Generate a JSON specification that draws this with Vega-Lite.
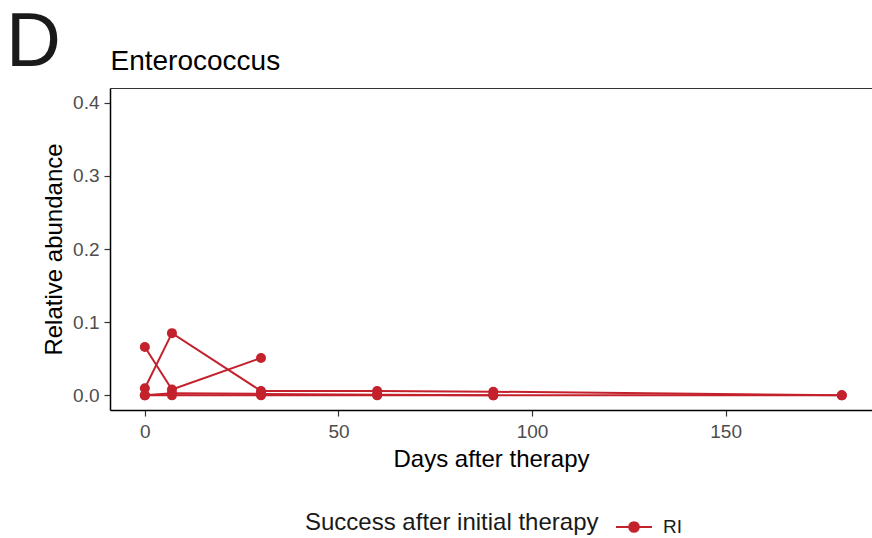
{
  "$schema": "https://vega.github.io/schema/vega-lite/v6.json",
  "autosize": "none",
  "width": 762,
  "height": 322,
  "padding": {"left": 110, "top": 88, "right": 0, "bottom": 128},
  "title": {"text": "D", "fontSize": 76, "font": "Liberation Sans", "fontWeight": "normal", "color": "#1a1a1a", "anchor": "start", "frame": "group", "dx": -104, "dy": 39},
  "config": {
    "view": {"stroke": null},
    "font": "Liberation Sans",
    "axis": {"grid": false}
  },
  "data": {"values": [
    {"subject": "A", "day": 0, "abundance": 0.066, "group": "RI"},
    {"subject": "A", "day": 7, "abundance": 0.008, "group": "RI"},
    {"subject": "A", "day": 30, "abundance": 0.051, "group": "RI"},
    {"subject": "B", "day": 0, "abundance": 0.0097, "group": "RI"},
    {"subject": "B", "day": 7, "abundance": 0.085, "group": "RI"},
    {"subject": "B", "day": 30, "abundance": 0.006, "group": "RI"},
    {"subject": "B", "day": 60, "abundance": 0.006, "group": "RI"},
    {"subject": "B", "day": 90, "abundance": 0.005, "group": "RI"},
    {"subject": "B", "day": 180, "abundance": 0.0, "group": "RI"},
    {"subject": "C", "day": 0, "abundance": 0.0, "group": "RI"},
    {"subject": "C", "day": 7, "abundance": 0.0, "group": "RI"},
    {"subject": "C", "day": 30, "abundance": 0.0, "group": "RI"},
    {"subject": "C", "day": 60, "abundance": 0.0, "group": "RI"},
    {"subject": "C", "day": 90, "abundance": 0.0, "group": "RI"},
    {"subject": "C", "day": 180, "abundance": 0.0, "group": "RI"},
    {"subject": "D", "day": 0, "abundance": 0.0, "group": "RI"},
    {"subject": "D", "day": 7, "abundance": 0.003, "group": "RI"},
    {"subject": "D", "day": 30, "abundance": 0.002, "group": "RI"},
    {"subject": "D", "day": 60, "abundance": 0.001, "group": "RI"},
    {"subject": "D", "day": 90, "abundance": 0.0, "group": "RI"}
  ]},
  "layer": [
    {
      "mark": {"type": "line", "strokeWidth": 2, "clip": false},
      "encoding": {
        "x": {"field": "day", "type": "quantitative", "scale": {"domain": [-9, 187.8], "nice": false, "zero": false},
          "axis": {"orient": "bottom", "values": [0, 50, 100, 150], "title": "Days after therapy", "domainColor": "#000000", "domainWidth": 1.5, "tickColor": "#333333", "tickWidth": 1.2, "tickSize": 6, "labelFontSize": 19, "labelColor": "#4d4d4d", "labelPadding": 6, "titleFontSize": 24, "titleFontWeight": "normal", "titleColor": "#000000", "titlePadding": 6}},
        "y": {"field": "abundance", "type": "quantitative", "scale": {"domain": [-0.02, 0.42], "nice": false, "zero": false},
          "axis": {"values": [0, 0.1, 0.2, 0.3, 0.4], "format": ".1f", "title": "Relative abundance", "domainColor": "#000000", "domainWidth": 1.5, "tickColor": "#333333", "tickWidth": 1.2, "tickSize": 6, "labelFontSize": 19, "labelColor": "#4d4d4d", "labelPadding": 5, "titleFontSize": 24, "titleFontWeight": "normal", "titleColor": "#000000", "titlePadding": 6}},
        "detail": {"field": "subject"},
        "order": {"field": "day"},
        "color": {"field": "group", "type": "nominal", "title": "Success after initial therapy",
          "scale": {"range": ["#C3212C"]},
          "legend": {"orient": "none", "legendX": 195, "legendY": 420, "direction": "horizontal", "titleOrient": "left", "titleLimit": 500, "titleFontSize": 24, "titleFontWeight": "normal", "titleColor": "#1a1a1a", "labelFontSize": 19, "labelColor": "#1a1a1a", "titlePadding": 16, "labelOffset": 10,
            "symbolType": "M -1 0 L 1 0 M -0.27 0 A 0.27 0.27 0 1 1 0.27 0 A 0.27 0.27 0 1 1 -0.27 0", "symbolSize": 1296, "symbolStrokeWidth": 2, "symbolFillColor": "#C3212C", "symbolStrokeColor": "#C3212C"}}
      }
    },
    {
      "mark": {"type": "point", "filled": true, "size": 100, "opacity": 1},
      "encoding": {
        "x": {"field": "day", "type": "quantitative",
          "axis": {"orient": "top", "ticks": false, "labels": false, "domainColor": "#333333", "domainWidth": 1, "title": "Enterococcus", "titleAnchor": "start", "titleAlign": "left", "titleFontSize": 28, "titleFontWeight": "normal", "titleColor": "#000000", "titlePadding": 13}},
        "y": {"field": "abundance", "type": "quantitative"},
        "color": {"field": "group", "type": "nominal"}
      }
    }
  ],
  "resolve": {"axis": {"x": "independent"}}
}
